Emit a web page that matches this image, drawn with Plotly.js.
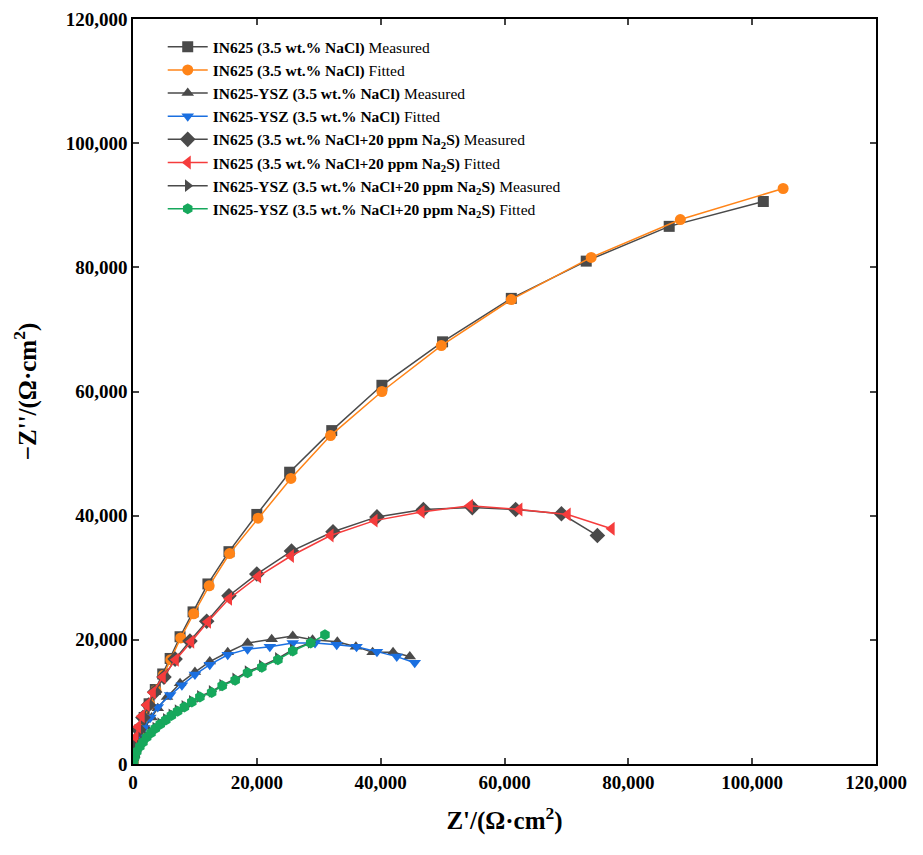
<!DOCTYPE html>
<html>
<head>
<meta charset="utf-8">
<script src="https://cdn.plot.ly/plotly-3.0.1.min.js"></script>
<style>body{margin:0;background:#fff}#grafico{width:923px;height:855px}</style>
</head>
<body>
<div id="grafico"></div>
<script>
// valores em kΩ·cm² (multiplicados por 1000 abaixo)
const in625MedX = [0, 0.2, 0.6, 1.1, 1.8, 2.6, 3.6, 4.8, 6, 7.6, 9.7, 12.1, 15.5, 20, 25.3, 32.1, 40.2, 50, 61.1, 73.2, 86.6, 101.8];
const in625MedY = [0.3, 1.8, 3.6, 5.5, 7.5, 9.7, 12, 14.5, 17, 20.5, 24.5, 29, 34.2, 40.2, 47, 53.7, 61, 68, 75, 81, 86.6, 90.6];
const in625FitX = [0, 0.2, 0.6, 1.1, 1.8, 2.7, 3.7, 4.9, 6.1, 7.7, 9.8, 12.3, 15.6, 20.2, 25.5, 31.9, 40.2, 49.8, 61.1, 74, 88.4, 105];
const in625FitY = [0.3, 1.7, 3.5, 5.4, 7.4, 9.6, 11.9, 14.3, 16.8, 20.3, 24.2, 28.7, 33.9, 39.6, 46, 52.9, 60, 67.4, 74.8, 81.6, 87.7, 92.7];

const yszMedX = [0.2, 0.6, 1.2, 2, 3, 4, 5.5, 7.6, 10, 12.4, 15.3, 18.5, 22.4, 25.8, 29, 33, 36, 38.7, 42, 44.7];
const yszMedY = [1.5, 3, 4.5, 6, 7.5, 9, 10.8, 13, 14.8, 16.5, 18, 19.5, 20.1, 20.6, 20, 19.7, 18.9, 18, 18, 17.3];
const yszFitX = [0.1, 0.5, 1, 1.8, 2.8, 4, 6, 7.9, 10, 12.4, 15.3, 18.5, 22.1, 25.8, 29.4, 32.9, 36.1, 39.4, 42.6, 45.5];
const yszFitY = [1.2, 2.7, 4.2, 5.8, 7.5, 9.2, 11.1, 12.7, 14.4, 16, 17.6, 18.5, 18.9, 19.5, 19.5, 19.2, 18.9, 18.1, 17.3, 16.3];

const in625SMedX = [0.1, 0.4, 0.9, 1.6, 2.5, 3.5, 5, 6.8, 9.2, 11.9, 15.5, 20, 25.6, 32.3, 39.4, 46.9, 54.8, 61.8, 69.2, 75];
const in625SMedY = [1.8, 3.5, 5.5, 7.5, 9.5, 11.6, 14, 16.9, 19.8, 23, 27.1, 30.6, 34.3, 37.4, 39.8, 41, 41.3, 41, 40.3, 36.8];
const in625SFitX = [0.4, 0.8, 1.4, 2.2, 3.2, 4.8, 6.9, 9.4, 12.1, 15.5, 20.2, 25.5, 31.9, 39, 46.6, 54.4, 62.4, 70.2, 77.3];
const in625SFitY = [4.3, 6, 7.7, 9.5, 11.5, 14, 16.8, 19.7, 22.9, 26.6, 30.2, 33.5, 36.8, 39.2, 40.6, 41.6, 41, 40.2, 37.9];

const yszSMedX = [0.1, 0.3, 0.6, 1.1, 1.6, 2.2, 2.9, 3.6, 4.4, 5.3, 6.2, 7.2, 8.3, 9.5, 10.8, 12.7, 14.4, 16.5, 18.5, 20.8, 23.4, 25.8, 28.7];
const yszSMedY = [0.6, 1.3, 2.1, 2.9, 3.6, 4.4, 5.1, 5.8, 6.5, 7.2, 7.9, 8.6, 9.3, 10.1, 10.9, 11.7, 12.7, 13.7, 14.9, 15.8, 17, 18.4, 19.6];
const yszSFitX = [0.1, 0.3, 0.6, 1.1, 1.6, 2.2, 2.9, 3.6, 4.4, 5.3, 6.2, 7.2, 8.3, 9.5, 10.8, 12.7, 14.4, 16.5, 18.5, 20.8, 23.4, 25.8, 28.7, 31];
const yszSFitY = [0.5, 1.2, 2, 2.8, 3.5, 4.3, 5, 5.7, 6.4, 7.1, 7.8, 8.5, 9.2, 10, 10.8, 11.5, 12.6, 13.5, 14.7, 15.6, 16.8, 18.2, 19.5, 20.8];

const nomes = [
  "<b>IN625 (3.5 wt.% NaCl)</b> Measured",
  "<b>IN625 (3.5 wt.% NaCl)</b> Fitted",
  "<b>IN625-YSZ (3.5 wt.% NaCl)</b> Measured",
  "<b>IN625-YSZ (3.5 wt.% NaCl)</b> Fitted",
  "<b>IN625 (3.5 wt.% NaCl+20 ppm Na<sub>2</sub>S)</b> Measured",
  "<b>IN625 (3.5 wt.% NaCl+20 ppm Na<sub>2</sub>S)</b> Fitted",
  "<b>IN625-YSZ (3.5 wt.% NaCl+20 ppm Na<sub>2</sub>S)</b> Measured",
  "<b>IN625-YSZ (3.5 wt.% NaCl+20 ppm Na<sub>2</sub>S)</b> Fitted",
];

const cinza = "#4a4a4a";
const serie = (x, y, nome, cor, simbolo, tam) => ({
  x: x.map((v) => v * 1000),
  y: y.map((v) => v * 1000),
  type: "scatter",
  mode: "lines+markers",
  name: nome,
  line: { color: cor, width: 1.5 },
  marker: { color: cor, symbol: simbolo, size: tam || 11 },
});

const dados = [
  serie(in625MedX, in625MedY, nomes[0], cinza, "square"),
  serie(in625FitX, in625FitY, nomes[1], "#ff8418", "circle"),
  serie(yszMedX, yszMedY, nomes[2], cinza, "triangle-up"),
  serie(yszFitX, yszFitY, nomes[3], "#1a6fe0", "triangle-down"),
  serie(in625SMedX, in625SMedY, nomes[4], cinza, "diamond", 12),
  serie(in625SFitX, in625SFitY, nomes[5], "#f53c3c", "triangle-left", 12),
  serie(yszSMedX, yszSMedY, nomes[6], cinza, "triangle-right"),
  serie(yszSFitX, yszSFitY, nomes[7], "#16a85c", "hexagon"),
];

const fonteTick = { family: "Liberation Serif, Times New Roman, serif", size: 19, color: "#000", weight: "bold" };
const fonteTitulo = { family: "Liberation Serif, Times New Roman, serif", size: 25, color: "#000", weight: "bold" };

const eixo = (titulo, afastamento) => ({
  title: { text: titulo, font: fonteTitulo, standoff: afastamento },
  range: [0, 120000],
  dtick: 20000,
  tickformat: ",d",
  tickfont: fonteTick,
  ticks: "inside",
  ticklen: 6,
  tickwidth: 1.5,
  showline: true,
  linewidth: 1.5,
  linecolor: "#000",
  mirror: "ticks",
  showgrid: false,
  zeroline: false,
});

const layout = {
  width: 923,
  height: 855,
  margin: { l: 133, r: 47, t: 19, b: 91 },
  paper_bgcolor: "#fff",
  plot_bgcolor: "#fff",
  xaxis: eixo("Z'/(Ω·cm<sup>2</sup>)", 20),
  yaxis: eixo("−Z''/(Ω·cm<sup>2</sup>)", 22),
  showlegend: true,
  legend: {
    x: 0.04,
    y: 0.985,
    xanchor: "left",
    yanchor: "top",
    bgcolor: "rgba(0,0,0,0)",
    tracegroupgap: 0,
    itemwidth: 40,
    font: { family: "Liberation Serif, Times New Roman, serif", size: 15.5, color: "#000" },
  },
};

Plotly.newPlot("grafico", dados, layout, { displayModeBar: false });
</script>
</body>
</html>
